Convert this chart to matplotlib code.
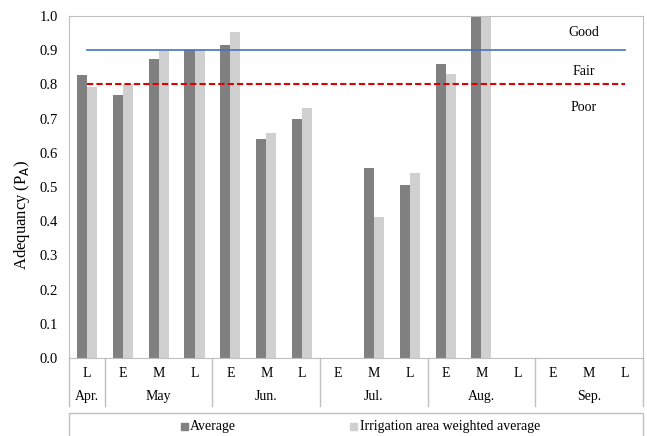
import numpy as np
import matplotlib.pyplot as plt
from matplotlib.patches import Rectangle
from matplotlib.lines import Line2D

plt.rcParams['font.family'] = ['Liberation Serif', 'DejaVu Serif']

# data
periods = ['L', 'E', 'M', 'L', 'E', 'M', 'L', 'E', 'M', 'L', 'E', 'M', 'L', 'E', 'M', 'L']
months = ['Apr.', 'May', 'Jun.', 'Jul.', 'Aug.', 'Sep.']
month_sizes = [1, 3, 3, 3, 3, 3]
average = [0.828, 0.770, 0.876, 0.900, 0.916, 0.640, 0.698, np.nan, 0.555, 0.507, 0.861, 1.0, np.nan, np.nan, np.nan, np.nan]
weighted = [0.794, 0.801, 0.897, 0.902, 0.954, 0.657, 0.730, np.nan, 0.413, 0.541, 0.832, 1.0, np.nan, np.nan, np.nan, np.nan]
good_level = 0.9
fair_level = 0.8

fig = plt.figure(figsize=(6.47, 4.36), dpi=100)
ax = fig.add_axes([0.1066, 0.179, 0.887, 0.784])

x = np.arange(len(periods))
w = 0.28
ax.bar(x - w / 2, average, w, color='#808080', label='Average')
ax.bar(x + w / 2, weighted, w, color='#d0d0d0', label='Irrigation area weighted average')

ax.plot([x[0], x[-1]], [good_level, good_level], color='#4472c4', lw=1.2)
ax.plot([x[0], x[-1]], [fair_level, fair_level], color='#e00000', lw=1.5, ls=(0, (3, 1.5)))

ax.text(13.85, 0.953, 'Good', ha='center', va='center', fontsize=10)
ax.text(13.85, 0.839, 'Fair', ha='center', va='center', fontsize=10)
ax.text(13.85, 0.734, 'Poor', ha='center', va='center', fontsize=10)

ax.set_xlim(-0.5, len(periods) - 0.5)
ax.set_ylim(0, 1.0)
ax.set_yticks(np.arange(0, 1.01, 0.1))
ax.set_yticklabels([f'{v:.1f}' for v in np.arange(0, 1.01, 0.1)], fontsize=10.5)
ax.tick_params(axis='y', length=0, pad=8)
ax.set_xticks([])
for s in ax.spines.values():
    s.set_color('#bfbfbf')
fig.text(22 / 647, 1 - 215 / 436, 'Adequancy (P$_\\mathrm{A}$)', rotation=90,
         ha='center', va='center', fontsize=12)

# two-level category axis
trans = ax.get_xaxis_transform()
for i, p in enumerate(periods):
    ax.text(i, -0.045, p, transform=trans, ha='center', va='center', fontsize=10)
start = 0
bounds = [-0.5]
for m, n in zip(months, month_sizes):
    ax.text(start + (n - 1) / 2, -0.113, m, transform=trans, ha='center', va='center', fontsize=10)
    start += n
    bounds.append(start - 0.5)
for b in bounds:
    ax.add_line(Line2D([b, b], [0, -0.14], transform=trans, color='#bfbfbf', lw=1, clip_on=False))

# legend box
fig.patches.append(Rectangle((69 / 647, -0.05), 574 / 647, 23 / 436 + 0.05, transform=fig.transFigure,
                             fill=False, edgecolor='#bfbfbf', lw=1))
ly = 1 - 426 / 436
fig.patches.append(Rectangle((181 / 647, ly - 3.5 / 436), 7 / 647, 7 / 436, transform=fig.transFigure,
                             color='#808080'))
fig.text(190 / 647, ly, 'Average', ha='left', va='center', fontsize=10)
fig.patches.append(Rectangle((350 / 647, ly - 3.5 / 436), 7 / 647, 7 / 436, transform=fig.transFigure,
                             color='#d0d0d0'))
fig.text(360 / 647, ly, 'Irrigation area weighted average', ha='left', va='center', fontsize=10)

fig.savefig('out.png', dpi=100)
